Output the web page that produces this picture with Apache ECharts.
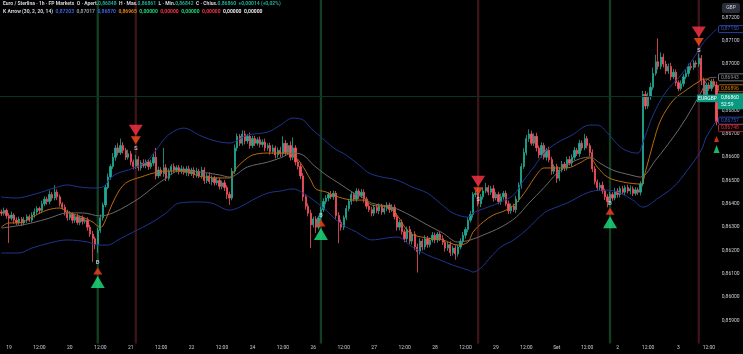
<!DOCTYPE html>
<html>
<head>
<meta charset="utf-8">
<script src="https://cdn.jsdelivr.net/npm/echarts/dist/echarts.min.js"></script>
<style>
  html, body { margin: 0; padding: 0; background: #000; }
  #chart { width: 743px; height: 354px; }
</style>
</head>
<body>
<div id="chart"></div>
<script>
// x axis: one label every 12 hourly bars, first one on bar 3
const tickLabels = ['19', '12:00', '20', '12:00', '21', '12:00', '22', '12:00', '24', '12:00', '26', '12:00',
  '27', '12:00', '28', '12:00', '29', '12:00', 'Set', '12:00', '2', '12:00', '3', '12:00'];
const firstTickBar = 3;
const barsPerTick = 12;

// hourly closes, open of a bar = close of the bar before
const firstOpen = 0.86365;
const closes = [
  0.86360, 0.86372, 0.86350, 0.86338, 0.86352, 0.86330, 0.86320, 0.86335, 0.86318, 0.86330, 0.86345, 0.86330, 0.86352, 0.86365, 0.86380, 0.86372, 0.86400, 0.86420, 0.86410, 0.86440,
  0.86425, 0.86450, 0.86430, 0.86400, 0.86385, 0.86365, 0.86340, 0.86355, 0.86330, 0.86345, 0.86320, 0.86340, 0.86325, 0.86330, 0.86300, 0.86270, 0.86250, 0.86225, 0.86285, 0.86340,
  0.86395, 0.86470, 0.86515, 0.86560, 0.86600, 0.86640, 0.86620, 0.86650, 0.86630, 0.86600, 0.86615, 0.86580, 0.86560, 0.86590, 0.86555, 0.86575, 0.86565, 0.86580, 0.86560, 0.86575,
  0.86600, 0.86520, 0.86545, 0.86530, 0.86555, 0.86510, 0.86540, 0.86560, 0.86545, 0.86555, 0.86540, 0.86550, 0.86535, 0.86550, 0.86530, 0.86545, 0.86525, 0.86540, 0.86520, 0.86545,
  0.86500, 0.86520, 0.86495, 0.86510, 0.86490, 0.86500, 0.86475, 0.86490, 0.86470, 0.86440, 0.86425, 0.86540, 0.86640, 0.86690, 0.86660, 0.86700, 0.86670, 0.86690, 0.86650, 0.86680,
  0.86660, 0.86675, 0.86655, 0.86665, 0.86640, 0.86650, 0.86625, 0.86640, 0.86610, 0.86630, 0.86615, 0.86660, 0.86620, 0.86650, 0.86600, 0.86640, 0.86580, 0.86560, 0.86520, 0.86430,
  0.86390, 0.86360, 0.86310, 0.86335, 0.86300, 0.86340, 0.86375, 0.86410, 0.86425, 0.86440, 0.86430, 0.86445, 0.86350, 0.86320, 0.86300, 0.86340, 0.86380, 0.86410, 0.86440, 0.86420,
  0.86455, 0.86435, 0.86450, 0.86420, 0.86390, 0.86375, 0.86360, 0.86385, 0.86370, 0.86390, 0.86365, 0.86380, 0.86395, 0.86375, 0.86385, 0.86345, 0.86300, 0.86320, 0.86280, 0.86250,
  0.86290, 0.86240, 0.86270, 0.86215, 0.86195, 0.86240, 0.86215, 0.86250, 0.86225, 0.86245, 0.86265, 0.86245, 0.86270, 0.86250, 0.86235, 0.86210, 0.86225, 0.86190, 0.86210, 0.86185,
  0.86215, 0.86240, 0.86265, 0.86290, 0.86330, 0.86355, 0.86440, 0.86445, 0.86400, 0.86430, 0.86455, 0.86470, 0.86450, 0.86465, 0.86425, 0.86440, 0.86410, 0.86430, 0.86445, 0.86400,
  0.86370, 0.86390, 0.86375, 0.86420, 0.86480, 0.86560, 0.86620, 0.86680, 0.86700, 0.86660, 0.86690, 0.86640, 0.86610, 0.86650, 0.86600, 0.86630, 0.86590, 0.86540, 0.86560, 0.86510,
  0.86545, 0.86570, 0.86555, 0.86590, 0.86575, 0.86600, 0.86630, 0.86615, 0.86660, 0.86640, 0.86680, 0.86650, 0.86620, 0.86550, 0.86495, 0.86470, 0.86480, 0.86455, 0.86430, 0.86410,
  0.86440, 0.86425, 0.86455, 0.86440, 0.86465, 0.86450, 0.86470, 0.86455, 0.86465, 0.86445, 0.86460, 0.86450, 0.86485, 0.86870, 0.86820, 0.86860, 0.86900, 0.86960, 0.87010, 0.86990,
  0.87030, 0.87000, 0.86970, 0.86990, 0.86945, 0.86965, 0.86920, 0.86895, 0.86915, 0.86945, 0.86960, 0.86990, 0.86985, 0.87005, 0.87000, 0.87025, 0.86930, 0.86855, 0.86910, 0.86895,
  0.86925, 0.86910, 0.86752
];
// wick lengths above / below the body, in 0.00001
const wickUp = [
  10, 12, 8, 10, 15, 8, 12, 10, 8, 14, 10, 9, 12, 15, 10, 8, 14, 12, 10, 18,
  10, 30, 12, 10, 8, 12, 10, 14, 8, 10, 12, 9, 10, 8, 12, 10, 14, 10, 12, 15,
  10, 12, 15, 10, 18, 12, 20, 30, 15, 10, 18, 12, 10, 20, 14, 12, 16, 10, 12, 15,
  18, 40, 14, 12, 85, 15, 12, 10, 14, 10, 12, 15, 10, 12, 14, 10, 12, 15, 10, 14,
  12, 10, 15, 12, 10, 14, 12, 10, 12, 10, 12, 14, 15, 12, 10, 15, 14, 10, 16, 12,
  12, 10, 14, 12, 15, 10, 12, 14, 10, 12, 15, 30, 14, 12, 18, 45, 12, 10, 15, 12,
  10, 12, 15, 10, 12, 10, 12, 14, 12, 10, 15, 12, 10, 14, 12, 10, 14, 12, 15, 10,
  12, 10, 14, 12, 10, 15, 12, 10, 14, 12, 10, 15, 12, 10, 14, 12, 15, 10, 12, 10,
  12, 15, 10, 12, 14, 12, 10, 15, 12, 10, 14, 12, 10, 12, 15, 10, 12, 14, 10, 12,
  10, 12, 14, 10, 12, 15, 10, 12, 25, 12, 14, 20, 10, 12, 15, 10, 12, 14, 10, 12,
  14, 12, 10, 15, 12, 14, 18, 15, 20, 14, 12, 15, 10, 14, 12, 10, 15, 12, 10, 12,
  12, 14, 10, 12, 15, 12, 14, 10, 15, 12, 20, 12, 10, 14, 12, 10, 12, 15, 10, 12,
  12, 10, 14, 12, 10, 12, 10, 12, 14, 10, 12, 10, 12, 15, 14, 18, 20, 25, 30, 100,
  20, 15, 14, 12, 15, 14, 12, 10, 15, 12, 14, 12, 15, 12, 10, 20, 14, 12, 10, 12,
  10, 12, 15
];
const wickDn = [
  12, 10, 14, 106, 10, 15, 12, 10, 14, 10, 12, 8, 10, 12, 10, 14, 12, 10, 14, 12,
  12, 10, 14, 12, 10, 15, 12, 10, 14, 12, 10, 12, 14, 10, 15, 12, 100, 20, 35, 10,
  12, 10, 8, 12, 10, 15, 12, 10, 14, 12, 10, 15, 12, 10, 14, 12, 10, 12, 14, 10,
  12, 15, 10, 12, 14, 12, 10, 15, 12, 10, 14, 12, 10, 15, 12, 10, 14, 12, 10, 12,
  14, 12, 10, 15, 12, 10, 14, 12, 15, 20, 30, 10, 12, 14, 12, 10, 15, 12, 14, 10,
  12, 10, 14, 12, 15, 12, 14, 10, 15, 12, 14, 12, 15, 10, 14, 12, 15, 12, 14, 18,
  15, 14, 100, 12, 25, 10, 12, 10, 12, 14, 10, 12, 14, 90, 15, 12, 10, 12, 14, 10,
  12, 14, 10, 15, 12, 10, 14, 12, 10, 14, 12, 10, 12, 14, 10, 12, 15, 14, 12, 15,
  14, 12, 15, 14, 90, 12, 15, 12, 14, 12, 10, 14, 12, 10, 12, 15, 12, 14, 12, 25,
  12, 10, 12, 14, 12, 10, 15, 12, 10, 14, 12, 10, 14, 12, 15, 10, 12, 14, 12, 10,
  14, 12, 10, 14, 12, 15, 10, 12, 14, 10, 12, 15, 14, 12, 10, 14, 12, 15, 12, 20,
  12, 10, 14, 12, 10, 15, 12, 10, 14, 12, 10, 12, 15, 14, 12, 10, 14, 12, 14, 25,
  10, 12, 10, 14, 12, 10, 12, 10, 14, 12, 10, 12, 14, 10, 15, 12, 14, 12, 10, 14,
  12, 15, 14, 12, 15, 10, 14, 12, 10, 12, 10, 14, 12, 10, 15, 12, 20, 14, 12, 10,
  12, 10, 15
];

// indicator lines, [bar, price]
const upperBand = [[0, 0.86429], [6, 0.86425], [12, 0.86438], [16, 0.86451], [22, 0.86472], [26, 0.86481], [31, 0.86472], [36, 0.86468], [40, 0.86472], [43, 0.86511], [46, 0.86532], [50, 0.86545], [52, 0.86554], [57, 0.86579], [61, 0.86631], [65, 0.86687], [69, 0.86717], [72, 0.86725], [78, 0.86695], [83, 0.86674], [90, 0.86661], [97, 0.86695], [105, 0.86708], [110, 0.86738], [115, 0.86768], [119, 0.86760], [122, 0.86725], [126, 0.86687], [131, 0.86640], [136, 0.86609], [141, 0.86567], [145, 0.86532], [150, 0.86515], [156, 0.86502], [162, 0.86472], [168, 0.86446], [173, 0.86403], [178, 0.86361], [184, 0.86343], [186, 0.86361], [192, 0.86386], [197, 0.86408], [202, 0.86438], [206, 0.86502], [210, 0.86558], [214, 0.86618], [219, 0.86661], [225, 0.86695], [232, 0.86738], [235, 0.86738], [239, 0.86704], [244, 0.86644], [248, 0.86622], [251, 0.86618], [253, 0.86665], [257, 0.86781], [262, 0.86880], [268, 0.86953], [273, 0.87026], [277, 0.87094], [282, 0.87150]];
const lowerBand = [[0, 0.86189], [7, 0.86189], [12, 0.86210], [19, 0.86232], [26, 0.86245], [34, 0.86236], [38, 0.86223], [42, 0.86223], [46, 0.86245], [52, 0.86279], [59, 0.86318], [65, 0.86361], [70, 0.86403], [78, 0.86408], [83, 0.86403], [90, 0.86373], [94, 0.86386], [99, 0.86416], [105, 0.86446], [110, 0.86455], [115, 0.86464], [119, 0.86446], [123, 0.86416], [128, 0.86373], [132, 0.86330], [136, 0.86300], [140, 0.86279], [143, 0.86258], [146, 0.86245], [152, 0.86253], [156, 0.86258], [162, 0.86215], [168, 0.86180], [173, 0.86159], [178, 0.86137], [184, 0.86116], [186, 0.86107], [189, 0.86124], [193, 0.86172], [197, 0.86215], [202, 0.86245], [207, 0.86288], [214, 0.86361], [218, 0.86382], [223, 0.86403], [232, 0.86451], [239, 0.86459], [244, 0.86446], [249, 0.86416], [253, 0.86386], [259, 0.86425], [265, 0.86472], [270, 0.86537], [276, 0.86631], [278, 0.86687], [282, 0.86757]];
const fastMa = [[0, 0.86300], [3, 0.86318], [7, 0.86318], [12, 0.86343], [18, 0.86373], [23, 0.86382], [27, 0.86361], [32, 0.86343], [36, 0.86322], [39, 0.86300], [40, 0.86305], [45, 0.86429], [49, 0.86489], [55, 0.86515], [62, 0.86537], [68, 0.86541], [72, 0.86541], [78, 0.86519], [86, 0.86511], [90, 0.86511], [92, 0.86545], [95, 0.86579], [99, 0.86609], [105, 0.86618], [110, 0.86618], [115, 0.86609], [118, 0.86575], [122, 0.86502], [124, 0.86464], [128, 0.86451], [133, 0.86429], [139, 0.86416], [143, 0.86416], [146, 0.86395], [152, 0.86386], [156, 0.86352], [161, 0.86275], [168, 0.86253], [174, 0.86245], [180, 0.86223], [184, 0.86236], [186, 0.86279], [190, 0.86322], [194, 0.86352], [199, 0.86373], [203, 0.86403], [207, 0.86459], [211, 0.86524], [214, 0.86554], [218, 0.86554], [223, 0.86554], [228, 0.86575], [232, 0.86597], [235, 0.86558], [239, 0.86515], [245, 0.86494], [252, 0.86485], [254, 0.86540], [257, 0.86660], [260, 0.86760], [265, 0.86845], [270, 0.86888], [276, 0.86931], [278, 0.86936], [282, 0.86896]];
const slowMa = [[0, 0.86296], [6, 0.86305], [12, 0.86318], [19, 0.86339], [26, 0.86361], [32, 0.86361], [39, 0.86348], [44, 0.86361], [50, 0.86395], [55, 0.86429], [60, 0.86472], [65, 0.86511], [70, 0.86541], [78, 0.86537], [86, 0.86524], [90, 0.86515], [97, 0.86558], [105, 0.86579], [110, 0.86597], [115, 0.86618], [119, 0.86609], [123, 0.86567], [128, 0.86524], [133, 0.86489], [139, 0.86446], [143, 0.86425], [146, 0.86403], [154, 0.86386], [161, 0.86352], [168, 0.86309], [174, 0.86275], [180, 0.86236], [185, 0.86245], [190, 0.86266], [197, 0.86300], [203, 0.86343], [208, 0.86403], [214, 0.86470], [219, 0.86530], [225, 0.86579], [232, 0.86601], [236, 0.86575], [241, 0.86545], [248, 0.86524], [252, 0.86515], [258, 0.86588], [265, 0.86687], [270, 0.86768], [276, 0.86880], [279, 0.86940], [282, 0.86943]];

// signals: bar and the price where the B / S letter sits
const buyBars = [38, 126, 240];
const buyLevels = [0.86146, 0.86352, 0.86403];
const sellBars = [53, 188, 275];
const sellLevels = [0.86639, 0.86420, 0.87060];
const pendingBar = 282;
const pendingLevel = 0.86678;

// header and price scale tags
const headerOhlc = [0.86848, 0.86861, 0.86842, 0.86860];
const headerChange = '+0,00014 (+0,02%)';
const indicatorValues = [0.87203, 0.87017, 0.86870, 0.86965, 0, 0, 0, 0, 0, 0];
const indicatorStyles = ['b', 's', 'b', 'o', 'n', 'r', 'n', 'r', 'w', 'w'];
const lastPrice = 0.86860;
const countdown = '52:59';
const priceTags = [
  { value: 0.87150, color: '#3556c8' },
  { value: 0.86943, color: '#8c8f96' },
  { value: 0.86896, color: '#d07a12' },
  { value: 0.86757, color: '#3556c8' },
  { value: 0.86748, color: '#d6333d' }
];

const UP = '#22ab94';
const DOWN = '#f7525f';
const FONT = 'Roboto, "Noto Sans", sans-serif';
const fmt = v => v.toFixed(5).replace('.', ',');

const categories = closes.map((_, i) => String(i));
const candles = closes.map((c, i) => {
  const o = i === 0 ? firstOpen : closes[i - 1];
  const hi = Math.max(o, c) + wickUp[i] * 0.00001;
  const lo = Math.min(o, c) - wickDn[i] * 0.00001;
  return [o, c, lo, hi];
});
const highlight = closes.map((_, i) => {
  if (buyBars.includes(i)) return { value: 1, itemStyle: { color: '#123f21' } };
  if (sellBars.includes(i)) return { value: 1, itemStyle: { color: '#3f1418' } };
  return '-';
});
const buyPoints = buyBars.map((b, i) => [b, buyLevels[i]]);
const sellPoints = sellBars.map((b, i) => [b, sellLevels[i]]);

const header1 = [
  '{t|Euro / Sterlina · 1h · FP Markets}',
  '{t|O · Apert.}{g|' + fmt(headerOhlc[0]) + '}',
  '{t|H · Max.}{g|' + fmt(headerOhlc[1]) + '}',
  '{t|L · Min.}{g|' + fmt(headerOhlc[2]) + '}',
  '{t|C · Chius.}{g|' + fmt(headerOhlc[3]) + '}',
  '{g|' + headerChange + '}'
].join('  ');
const header2 = '{t|K Arrow (30, 2, 20, 14)}  ' +
  indicatorValues.map((v, i) => '{' + indicatorStyles[i] + '|' + fmt(v) + '}').join('  ');
const rich = {
  t: { color: '#d1d4dc', fontSize: 5, fontFamily: FONT },
  g: { color: UP, fontSize: 5, fontFamily: FONT },
  b: { color: '#3d63dd', fontSize: 5, fontFamily: FONT },
  s: { color: '#9598a1', fontSize: 5, fontFamily: FONT },
  o: { color: '#e0820f', fontSize: 5, fontFamily: FONT },
  n: { color: '#1fd67a', fontSize: 5, fontFamily: FONT },
  r: { color: '#f23645', fontSize: 5, fontFamily: FONT },
  w: { color: '#e6e7ea', fontSize: 5, fontFamily: FONT }
};

const chart = echarts.init(document.getElementById('chart'));

const lineSeries = (data, color, width) => ({
  type: 'line', data: data, smooth: 0.35, symbol: 'none', silent: true, z: 3,
  lineStyle: { color: color, width: width }
});

chart.setOption({
  animation: false,
  backgroundColor: '#000',
  textStyle: { fontFamily: FONT },
  title: [
    { left: 3, top: 1, padding: 0, text: header1, textStyle: { fontSize: 5, rich: rich } },
    { left: 3, top: 9, padding: 0, text: header2, textStyle: { fontSize: 5, rich: rich } }
  ],
  grid: { left: 0.12, right: 25.2, top: 0, bottom: 10.4 },
  xAxis: {
    type: 'category',
    data: categories,
    boundaryGap: true,
    axisLine: { show: false },
    axisTick: { show: false },
    splitLine: { show: false },
    axisLabel: {
      color: '#c8cbd2',
      fontSize: 5,
      margin: 1.5,
      interval: idx => idx >= firstTickBar && (idx - firstTickBar) % barsPerTick === 0,
      formatter: (val, idx) => tickLabels[(idx - firstTickBar) / barsPerTick] || ''
    }
  },
  yAxis: [
    {
      type: 'value',
      position: 'right',
      min: 0.858,
      max: 0.87275,
      interval: 0.001,
      axisLine: { show: false },
      axisTick: { show: false },
      splitLine: { show: false },
      axisLabel: {
        color: '#c8cbd2', fontSize: 5, margin: 4,
        showMinLabel: false, showMaxLabel: false,
        formatter: v => fmt(v)
      }
    },
    { type: 'value', min: 0, max: 1, show: false }
  ],
  series: [
    {
      type: 'bar', yAxisIndex: 1, data: highlight, barWidth: '90%', silent: true, z: 0
    },
    {
      type: 'candlestick',
      data: candles,
      barWidth: '70%',
      z: 2,
      itemStyle: { color: UP, color0: DOWN, borderColor: UP, borderColor0: DOWN, borderWidth: 0.8 },
      markLine: {
        symbol: 'none', silent: true, precision: 5, label: { show: false },
        lineStyle: { color: '#07342a', width: 1, type: 'solid' },
        data: [{ yAxis: lastPrice }]
      }
    },
    lineSeries(upperBand, '#1f3590', 1),
    lineSeries(lowerBand, '#1f3590', 1),
    lineSeries(slowMa, '#6a6a6a', 1),
    lineSeries(fastMa, '#b86a0e', 1),
    // buy markers
    {
      type: 'scatter', data: buyPoints, symbol: 'triangle', symbolSize: [14, 12],
      symbolOffset: [0, 19], itemStyle: { color: '#1fe283' }, silent: true, z: 5
    },
    {
      type: 'scatter', data: buyPoints, symbol: 'triangle', symbolSize: [9, 7],
      symbolOffset: [0, 8], itemStyle: { color: '#ff3d1a' }, silent: true, z: 5
    },
    {
      type: 'scatter', data: buyPoints, symbolSize: 1, itemStyle: { color: 'transparent' }, silent: true, z: 6,
      label: { show: true, position: 'inside', formatter: 'B', color: '#d6d8de', fontSize: 6, fontWeight: 'bold' }
    },
    // sell markers
    {
      type: 'scatter', data: sellPoints, symbol: 'triangle', symbolRotate: 180, symbolSize: [14, 11],
      symbolOffset: [0, -18], itemStyle: { color: '#ff3347' }, silent: true, z: 5
    },
    {
      type: 'scatter', data: sellPoints, symbol: 'triangle', symbolRotate: 180, symbolSize: [10, 8],
      symbolOffset: [0, -8], itemStyle: { color: '#ff4d1a' }, silent: true, z: 5
    },
    {
      type: 'scatter', data: sellPoints, symbolSize: 1, itemStyle: { color: 'transparent' }, silent: true, z: 6,
      label: { show: true, position: 'inside', formatter: 'S', color: '#d6d8de', fontSize: 6, fontWeight: 'bold' }
    },
    // arrow forming on the live bar
    {
      type: 'scatter', data: [[pendingBar, pendingLevel]], symbol: 'triangle', symbolSize: [5, 6],
      itemStyle: { color: '#ff3d1a' }, silent: true, z: 5
    },
    {
      type: 'scatter', data: [[pendingBar, pendingLevel]], symbol: 'triangle', symbolSize: [6, 8],
      symbolOffset: [0, 10], itemStyle: { color: '#1fe283' }, silent: true, z: 5
    }
  ]
});

// price scale tags, pushed apart top to bottom when they overlap
function drawPriceTags() {
  const yOf = v => chart.convertToPixel({ yAxisIndex: 0 }, v);
  const yLast = yOf(lastPrice);
  const boxes = priceTags.map(t => ({ value: t.value, color: t.color, top: yOf(t.value) - 3.5, h: 7 }));
  boxes.push({ value: lastPrice, last: true, top: yLast - 3.4, h: 16 });
  boxes.sort((a, b) => a.top - b.top);
  for (let i = 1; i < boxes.length; i++) {
    const prev = boxes[i - 1];
    if (boxes[i].top < prev.top + prev.h + 0.5) boxes[i].top = prev.top + prev.h + 0.5;
  }
  const txt = (x, y, text, fill, align) => ({
    type: 'text', x: x, y: y, z: 101, silent: true,
    style: {
      text: text, fill: fill, fontSize: 5, fontFamily: FONT,
      align: align || 'left', textAlign: align || 'left',
      verticalAlign: 'middle', textVerticalAlign: 'middle'
    }
  });
  const els = [];
  boxes.forEach(b => {
    if (b.last) {
      els.push({ type: 'rect', z: 100, silent: true, shape: { x: 718, y: b.top, width: 25, height: b.h }, style: { fill: '#089981' } });
      els.push(txt(721, b.top + 4.3, fmt(b.value), '#ffffff'));
      els.push(txt(721, b.top + 11.3, countdown, '#ffffff'));
    } else {
      els.push({ type: 'rect', z: 100, silent: true, shape: { x: 718.5, y: b.top, width: 25, height: b.h, r: 1 }, style: { fill: '#000', stroke: b.color, lineWidth: 0.8 } });
      els.push(txt(721, b.top + b.h / 2, fmt(b.value), b.color));
    }
  });
  // symbol tag left of the scale
  els.push({ type: 'rect', z: 100, silent: true, shape: { x: 697, y: yLast - 2, width: 21, height: 7.5 }, style: { fill: '#089981' } });
  els.push(txt(707.5, yLast + 1.8, 'EURGBP', '#ffffff', 'center'));
  // currency button
  els.push({ type: 'rect', z: 100, silent: true, shape: { x: 722, y: 3, width: 18, height: 10, r: 2 }, style: { fill: '#2a2e39' } });
  els.push(txt(731, 8, 'GBP', '#d1d4dc', 'center'));
  chart.setOption({ graphic: els });
}
drawPriceTags();
</script>
</body>
</html>
